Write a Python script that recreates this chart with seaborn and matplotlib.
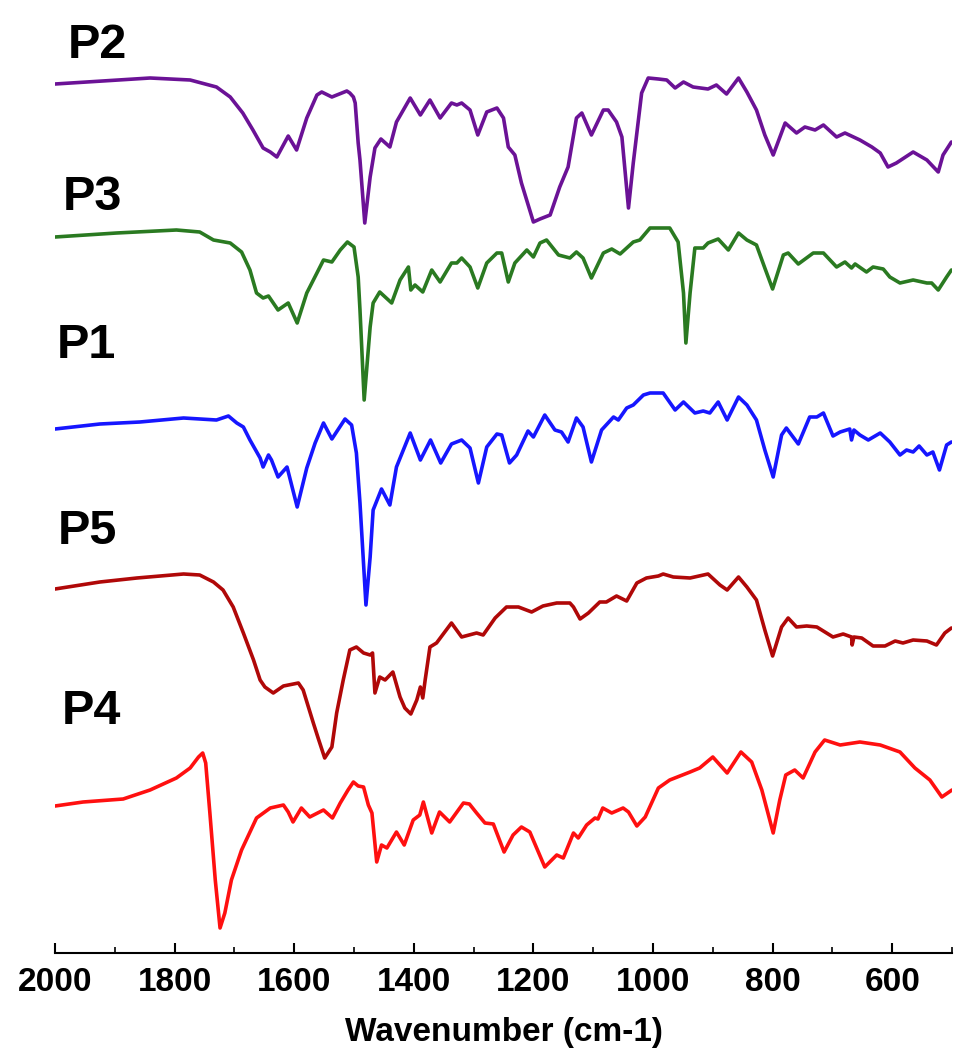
import numpy as np
import pandas as pd
import matplotlib
matplotlib.use("Agg")
import matplotlib.pyplot as plt
import seaborn as sns
from matplotlib.ticker import MultipleLocator

# ---- data: wavenumber (cm-1) and offset transmittance (a.u.) ----
p2_wn = [2000, 1841, 1774, 1730, 1707, 1686, 1669, 1652, 1640, 1629, 1610, 1596, 1579, 1562, 1554, 1537,
         1512, 1507, 1501, 1498, 1493, 1490, 1482, 1473, 1465, 1455, 1440, 1429, 1406, 1389, 1373, 1356,
         1337, 1328, 1320, 1306, 1293, 1278, 1261, 1250, 1242, 1231, 1220, 1200, 1189, 1172, 1156, 1142,
         1128, 1119, 1103, 1083, 1075, 1061, 1052, 1041, 1033, 1019, 1008, 991, 977, 963, 949, 933, 908,
         894, 877, 857, 843, 827, 813, 799, 779, 760, 746, 729, 715, 693, 679, 654, 634, 620, 607, 593,
         565, 542, 523, 515, 501]
p2_t = [869, 875, 873, 866, 856, 840, 823, 805, 801, 796, 817, 803, 835, 858, 861, 856,
        862, 860, 856, 850, 810, 793, 730, 776, 805, 814, 806, 831, 855, 838, 853, 835,
        850, 848, 850, 843, 818, 841, 845, 835, 806, 798, 770, 731, 734, 738, 766, 786,
        835, 840, 818, 843, 843, 831, 816, 745, 790, 860, 875, 874, 873, 865, 871, 866, 864,
        868, 859, 875, 861, 843, 818, 798, 830, 820, 826, 823, 828, 816, 820, 813, 806, 800, 786, 790,
        801, 793, 781, 798, 811]

p3_wn = [2000, 1897, 1797, 1758, 1735, 1707, 1688, 1674, 1663, 1652, 1643, 1627, 1610, 1595, 1579, 1562,
         1551, 1537, 1523, 1511, 1500, 1493, 1490, 1483, 1473, 1468, 1457, 1437, 1423, 1409, 1405, 1398,
         1385, 1370, 1356, 1337, 1328, 1320, 1306, 1293, 1278, 1261, 1253, 1242, 1231, 1211, 1200, 1189,
         1178, 1158, 1139, 1128, 1117, 1103, 1083, 1069, 1055, 1033, 1022, 1005, 991, 972, 958, 949, 945,
         938, 930, 916, 908, 891, 874, 857, 843, 827, 813, 800, 782, 774, 757, 732, 715, 693, 679, 668,
         662, 643, 632, 615, 604, 587, 565, 542, 534, 523, 509, 501]
p3_t = [716, 720, 723, 721, 713, 710, 701, 683, 660, 655, 657, 643, 650, 630, 660, 680,
        693, 691, 703, 711, 706, 676, 643, 553, 626, 650, 661, 650, 673, 686, 663, 668,
        661, 683, 671, 690, 690, 695, 686, 665, 690, 700, 700, 671, 690, 703, 696, 710,
        713, 698, 695, 701, 695, 675, 700, 704, 699, 711, 713, 725, 725, 725, 711, 660, 610,
        660, 705, 705, 710, 714, 703, 720, 713, 708, 685, 664, 698, 700, 689, 700, 700, 686, 691, 685,
        689, 681, 686, 684, 676, 670, 673, 670, 670, 663, 676, 683]

p1_wn = [2000, 1925, 1858, 1785, 1730, 1710, 1696, 1685, 1674, 1657, 1652, 1643, 1638, 1627, 1612, 1595,
         1579, 1565, 1551, 1537, 1515, 1504, 1496, 1490, 1480, 1473, 1468, 1454, 1440, 1429, 1406, 1389,
         1372, 1355, 1337, 1320, 1306, 1292, 1278, 1261, 1253, 1240, 1228, 1209, 1200, 1181, 1164, 1153,
         1142, 1128, 1117, 1103, 1086, 1066, 1058, 1044, 1033, 1016, 1005, 983, 963, 949, 930, 916, 905,
         891, 876, 857, 843, 827, 813, 799, 785, 777, 757, 738, 726, 715, 699, 687, 671, 668, 664, 654,
         640, 620, 604, 587, 576, 565, 555, 542, 532, 521, 509, 501]
p1_t = [524, 529, 531, 535, 533, 537, 530, 526, 513, 495, 486, 498, 493, 476, 486, 446,
        485, 510, 530, 514, 534, 528, 500, 450, 348, 396, 443, 464, 448, 486, 520, 493,
        513, 490, 509, 513, 505, 470, 506, 519, 518, 490, 498, 522, 516, 538, 523, 521,
        511, 535, 526, 491, 523, 536, 533, 545, 548, 558, 560, 560, 543, 551, 540, 542, 540,
        551, 533, 556, 548, 533, 503, 476, 518, 525, 509, 536, 536, 540, 517, 521, 524, 513, 523, 518,
        513, 520, 511, 498, 503, 501, 507, 498, 501, 483, 508, 511]

p5_wn = [2000, 1925, 1863, 1785, 1758, 1735, 1719, 1702, 1685, 1668, 1657, 1649, 1635, 1618, 1593, 1585,
         1568, 1560, 1549, 1537, 1529, 1518, 1507, 1496, 1484, 1473, 1469, 1465, 1457, 1448, 1435, 1423,
         1415, 1405, 1395, 1389, 1385, 1381, 1373, 1362, 1337, 1320, 1295, 1284, 1264, 1245, 1225, 1203,
         1184, 1161, 1139, 1133, 1122, 1108, 1089, 1078, 1061, 1044, 1027, 1011, 991, 983, 966, 938, 908,
         888, 876, 857, 843, 827, 813, 800, 785, 774, 760, 743, 726, 699, 682, 668, 667, 664, 651, 632,
         612, 595, 582, 565, 542, 526, 512, 501]
p5_t = [364, 371, 375, 379, 378, 371, 363, 346, 320, 293, 273, 266, 260, 267, 270, 263,
        230, 215, 195, 206, 240, 273, 303, 306, 300, 298, 300, 260, 276, 273, 281, 256,
        245, 239, 253, 266, 255, 273, 306, 310, 330, 316, 320, 318, 335, 346, 346, 341,
        347, 350, 350, 346, 334, 340, 351, 351, 357, 352, 370, 375, 377, 379, 376, 375, 379,
        368, 363, 376, 366, 353, 323, 297, 326, 335, 326, 327, 326, 316, 319, 316, 308, 316, 315, 307,
        307, 312, 310, 313, 312, 308, 320, 325]

p4_wn = [2000, 1953, 1886, 1841, 1797, 1774, 1760, 1753, 1748, 1741, 1732, 1724, 1716, 1705, 1688, 1663,
         1640, 1618, 1610, 1602, 1588, 1574, 1551, 1536, 1523, 1510, 1501, 1493, 1484, 1476, 1470, 1462,
         1454, 1445, 1429, 1416, 1401, 1390, 1384, 1370, 1357, 1340, 1317, 1307, 1295, 1281, 1267, 1249,
         1234, 1220, 1206, 1181, 1161, 1150, 1133, 1125, 1111, 1097, 1092, 1084, 1069, 1050, 1041, 1027,
         1013, 991, 972, 938, 922, 900, 876, 853, 835, 818, 799, 788, 778, 763, 749, 729, 713, 687, 654,
         620, 587, 562, 537, 517, 500]
p4_t = [147, 151, 154, 163, 175, 185, 196, 200, 190, 140, 73, 25, 40, 73, 103, 135,
        145, 148, 141, 131, 145, 136, 143, 135, 150, 163, 171, 167, 166, 148, 140, 91,
        108, 105, 121, 108, 133, 138, 151, 120, 141, 131, 150, 149, 140, 130, 129, 101,
        118, 126, 121, 86, 98, 95, 120, 115, 128, 135, 134, 145, 140, 145, 141, 127,
        136, 165, 173, 181, 185, 196, 180, 201, 191, 163, 120, 153, 178, 183, 175, 201, 213, 208, 211,
        208, 201, 185, 173, 156, 163]

labels = ["P2", "P3", "P1", "P5", "P4"]
colors = ["#6b1296", "#2a7a21", "#1616ff", "#b00808", "#ff1010"]
label_pos = [(97, 45), (92, 198), (86, 346), (87, 531), (91, 711)]  # pixel centres of the text labels

series = [(p2_wn, p2_t), (p3_wn, p3_t), (p1_wn, p1_t), (p5_wn, p5_t), (p4_wn, p4_t)]
frames = []
for lab, (wn, t) in zip(labels, series):
    frames.append(pd.DataFrame({"wn": wn, "T": t, "sample": lab}))
df = pd.concat(frames, ignore_index=True)

sns.set_theme(style="white")
plt.rcParams["font.family"] = ["Liberation Sans", "DejaVu Sans"]
plt.rcParams["font.weight"] = "bold"
plt.rcParams["text.color"] = "black"
plt.rcParams["axes.labelcolor"] = "black"
plt.rcParams["xtick.color"] = "black"

W, H = 957, 1057
fig = plt.figure(figsize=(W / 100, H / 100), dpi=100)
ax = fig.add_axes([55 / W, 1 - 953 / H, (952 - 55) / W, 953 / H])

sns.lineplot(data=df, x="wn", y="T", hue="sample", palette=dict(zip(labels, colors)),
             sort=False, estimator=None, linewidth=2.6, legend=False, ax=ax)
for line in ax.get_lines():
    line.set_solid_joinstyle("round")
    line.set_solid_capstyle("round")

ax.set_xlim(2000, 500)
ax.set_ylim(0, 953)
ax.set_yticks([])
ax.set_ylabel("")
for s in ["top", "right", "left"]:
    ax.spines[s].set_visible(False)
ax.spines["bottom"].set_color("black")
ax.spines["bottom"].set_linewidth(1.5)
ax.xaxis.set_major_locator(MultipleLocator(200))
ax.xaxis.set_minor_locator(MultipleLocator(100))
ax.set_xticks([2000, 1800, 1600, 1400, 1200, 1000, 800, 600])
ax.tick_params(axis="x", which="major", direction="in", length=7, width=1.5, color="black",
               labelcolor="black", labelsize=24, pad=10, bottom=True)
ax.tick_params(axis="x", which="minor", direction="in", length=4, width=1.2, color="black", bottom=True)
for lbl in ax.get_xticklabels():
    lbl.set_fontweight("bold")
ax.set_xlabel("Wavenumber (cm-1)", fontsize=24, fontweight="bold", labelpad=14, color="black")

for lab, (px, py) in zip(labels, label_pos):
    fig.text(px / W, 1 - py / H, lab, fontsize=35, fontweight="bold", ha="center", va="center",
             color="black")

fig.savefig("out.png", dpi=100, facecolor="white")
